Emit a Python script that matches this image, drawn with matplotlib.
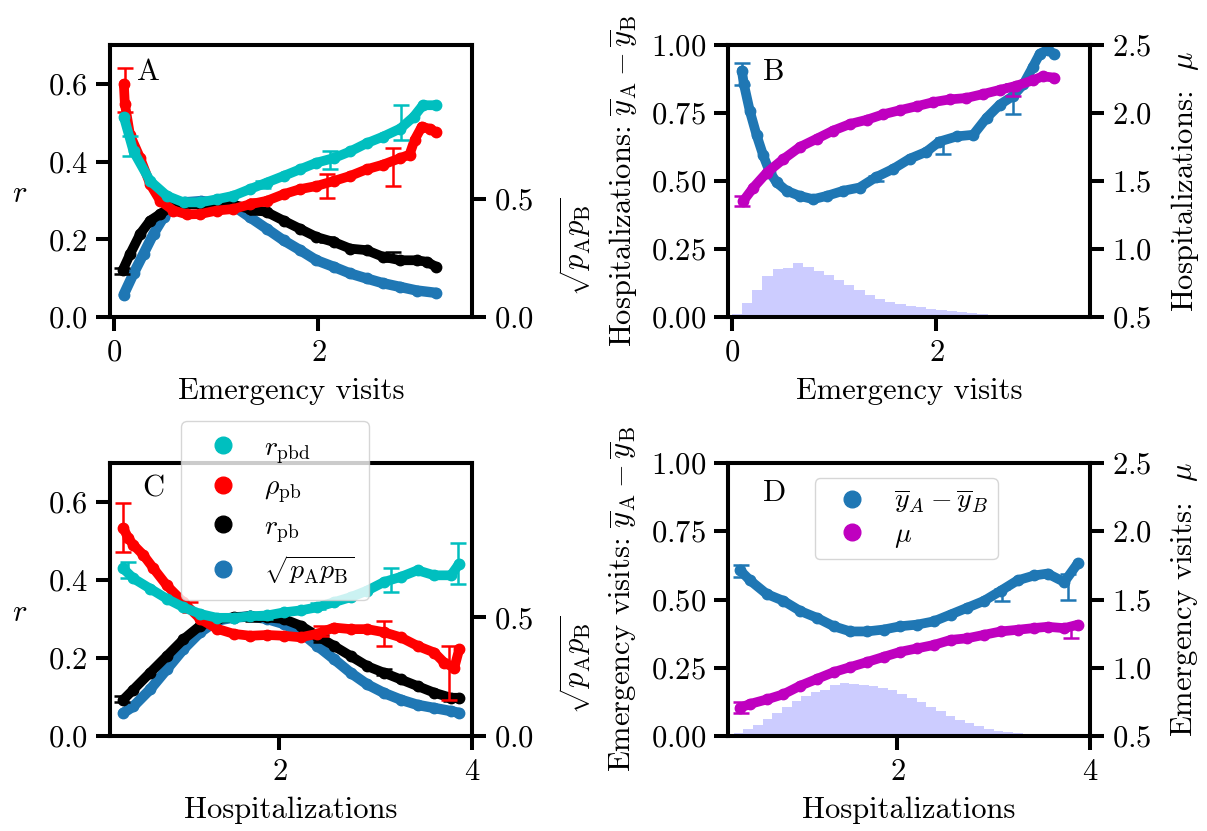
import numpy as np
import matplotlib
matplotlib.use("Agg")
import matplotlib.pyplot as plt
from matplotlib.lines import Line2D

plt.rcParams['font.family'] = ['cmr10', 'DejaVu Serif']
plt.rcParams['mathtext.fontset'] = 'cm'
plt.rcParams['axes.formatter.use_mathtext'] = True
plt.rcParams['font.size'] = 22
plt.rcParams['axes.unicode_minus'] = False

# ---------------- Panel A (x: Emergency visits) ----------------
A_cyan_x = [0.10, 0.195, 0.357, 0.52, 0.683, 0.846, 1.008, 1.17, 1.33, 1.496, 1.66, 1.82, 1.98, 2.15, 2.31, 2.47, 2.63, 2.80, 2.93, 3.02, 3.15]
A_cyan_y = [0.515, 0.426, 0.35, 0.312, 0.295, 0.295, 0.303, 0.312, 0.329, 0.346, 0.363, 0.380, 0.397, 0.409, 0.426, 0.447, 0.464, 0.485, 0.515, 0.545, 0.545]
A_red_x = [0.10, 0.11, 0.16, 0.26, 0.357, 0.455, 0.585, 0.716, 0.846, 1.008, 1.17, 1.33, 1.496, 1.66, 1.82, 1.98, 2.15, 2.31, 2.47, 2.63, 2.80, 2.89, 2.94, 3.01, 3.09, 3.15]
A_red_y = [0.60, 0.549, 0.469, 0.409, 0.342, 0.299, 0.274, 0.264, 0.265, 0.274, 0.278, 0.29, 0.299, 0.316, 0.329, 0.337, 0.35, 0.363, 0.380, 0.392, 0.409, 0.418, 0.456, 0.490, 0.484, 0.475]
A_black_x = [0.09, 0.163, 0.26, 0.357, 0.455, 0.553, 0.683, 0.846, 1.008, 1.17, 1.33, 1.496, 1.66, 1.82, 1.98, 2.15, 2.31, 2.47, 2.63, 2.80, 2.96, 3.06, 3.15]
A_black_y = [0.121, 0.163, 0.214, 0.248, 0.265, 0.282, 0.29, 0.29, 0.292, 0.289, 0.278, 0.27, 0.248, 0.227, 0.206, 0.193, 0.176, 0.172, 0.155, 0.146, 0.146, 0.142, 0.129]
A_blue_x = [0.098, 0.195, 0.293, 0.39, 0.488, 0.585, 0.7, 0.85, 1.0, 1.17, 1.33, 1.496, 1.66, 1.82, 1.98, 2.15, 2.31, 2.47, 2.63, 2.80, 2.96, 3.15]
A_blue_y = [0.094, 0.184, 0.268, 0.352, 0.422, 0.470, 0.485, 0.49, 0.485, 0.470, 0.422, 0.373, 0.324, 0.283, 0.240, 0.212, 0.184, 0.163, 0.143, 0.127, 0.112, 0.102]
A_cyan_err = ([0.163, 1.46, 2.11, 2.81], [0.44, 0.341, 0.404, 0.50], [0.025, 0.008, 0.024, 0.045])
A_red_err = ([0.114, 1.40, 2.08, 2.73], [0.585, 0.296, 0.337, 0.386], [0.057, 0.008, 0.03, 0.05])
A_black_err = ([0.08, 0.75, 1.40, 2.08, 2.73], [0.118, 0.292, 0.27, 0.20, 0.155], [0.008, 0.009, 0.006, 0.006, 0.012])

# ---------------- Panel B (x: Emergency visits) ----------------
B_diff_x = [0.10, 0.12, 0.179, 0.244, 0.309, 0.374, 0.439, 0.537, 0.667, 0.797, 0.927, 1.09, 1.25, 1.41, 1.58, 1.74, 1.90, 2.03, 2.20, 2.36, 2.49, 2.62, 2.75, 2.85, 2.94, 3.01, 3.09, 3.15]
B_diff_y = [0.906, 0.856, 0.756, 0.669, 0.594, 0.532, 0.495, 0.464, 0.445, 0.433, 0.445, 0.464, 0.476, 0.514, 0.545, 0.582, 0.607, 0.645, 0.664, 0.67, 0.732, 0.781, 0.813, 0.856, 0.918, 0.968, 0.983, 0.966]
B_mu_x = [0.114, 0.211, 0.342, 0.504, 0.667, 0.83, 0.99, 1.16, 1.32, 1.48, 1.64, 1.81, 1.97, 2.13, 2.29, 2.46, 2.62, 2.78, 2.94, 3.04, 3.15]
B_mu_y = [1.353, 1.45, 1.56, 1.66, 1.75, 1.81, 1.87, 1.92, 1.95, 1.99, 2.02, 2.05, 2.08, 2.10, 2.11, 2.14, 2.17, 2.20, 2.24, 2.27, 2.26]
B_diff_err = ([0.10, 1.41, 2.06, 2.75], [0.894, 0.51, 0.629, 0.80], [0.04, 0.01, 0.028, 0.055])
B_mu_err = ([0.10, 1.41, 2.06, 2.75], [1.353, 1.97, 2.09, 2.17], [0.037, 0.01, 0.012, 0.045])
B_hist_centers = [0.05, 0.15, 0.25, 0.35, 0.45, 0.55, 0.65, 0.75, 0.85, 0.95, 1.05, 1.15, 1.25, 1.35, 1.45, 1.55, 1.65, 1.75, 1.85, 1.95, 2.05, 2.15, 2.25, 2.35, 2.45, 2.55, 2.65]
B_hist_heights = [0.01, 0.05, 0.10, 0.15, 0.175, 0.18, 0.20, 0.185, 0.168, 0.155, 0.137, 0.118, 0.098, 0.082, 0.067, 0.056, 0.047, 0.04, 0.035, 0.029, 0.025, 0.021, 0.017, 0.013, 0.01, 0.007, 0.004]

# ---------------- Panel C (x: Hospitalizations) ----------------
C_x = [0.378, 0.483, 0.656, 0.83, 1.003, 1.177, 1.351, 1.524, 1.698, 1.872, 2.045, 2.219, 2.392, 2.566, 2.74, 2.913, 3.087, 3.26, 3.434, 3.608, 3.781, 3.868]
C_cyan_y = [0.4295, 0.404, 0.378, 0.352, 0.330, 0.313, 0.303, 0.303, 0.307, 0.309, 0.317, 0.322, 0.330, 0.343, 0.356, 0.373, 0.395, 0.408, 0.425, 0.412, 0.412, 0.442]
C_black_y = [0.093, 0.119, 0.162, 0.205, 0.248, 0.283, 0.300, 0.304, 0.307, 0.304, 0.300, 0.283, 0.257, 0.231, 0.205, 0.179, 0.162, 0.145, 0.128, 0.111, 0.098, 0.098]
C_blue_y = [0.097, 0.125, 0.196, 0.281, 0.366, 0.437, 0.486, 0.499, 0.504, 0.493, 0.472, 0.437, 0.380, 0.324, 0.266, 0.217, 0.181, 0.153, 0.131, 0.118, 0.105, 0.097]
C_red_x = [0.378, 0.431, 0.483, 0.587, 0.691, 0.83, 1.003, 1.177, 1.351, 1.524, 1.698, 1.872, 2.045, 2.219, 2.392, 2.566, 2.74, 2.913, 3.087, 3.26, 3.434, 3.608, 3.712, 3.816, 3.868]
C_red_y = [0.533, 0.507, 0.490, 0.464, 0.430, 0.386, 0.343, 0.300, 0.275, 0.262, 0.257, 0.259, 0.257, 0.253, 0.262, 0.278, 0.274, 0.274, 0.266, 0.253, 0.231, 0.214, 0.188, 0.175, 0.223]
C_cyan_err = ([0.431, 1.85, 2.40, 3.16, 3.85], [0.425, 0.308, 0.333, 0.40, 0.443], [0.02, 0.008, 0.008, 0.03, 0.052])
C_red_err = ([0.378, 1.07, 2.43, 3.09, 3.76], [0.535, 0.33, 0.27, 0.263, 0.162], [0.063, 0.013, 0.013, 0.033, 0.069])
C_black_err = ([0.36, 1.73, 2.43, 3.09, 3.78], [0.095, 0.304, 0.25, 0.165, 0.098], [0.008, 0.01, 0.008, 0.008, 0.008])

# ---------------- Panel D (x: Hospitalizations) ----------------
D_x = [0.365, 0.469, 0.643, 0.816, 0.99, 1.163, 1.337, 1.51, 1.684, 1.858, 2.031, 2.205, 2.378, 2.552, 2.726, 2.899, 3.073, 3.247, 3.42, 3.559, 3.733, 3.872]
D_diff_y = [0.607, 0.570, 0.520, 0.495, 0.458, 0.433, 0.402, 0.383, 0.383, 0.390, 0.402, 0.408, 0.420, 0.445, 0.470, 0.495, 0.532, 0.570, 0.588, 0.595, 0.564, 0.632]
D_mu_y = [0.706, 0.735, 0.768, 0.806, 0.868, 0.918, 0.968, 1.005, 1.042, 1.080, 1.117, 1.142, 1.167, 1.204, 1.216, 1.241, 1.266, 1.278, 1.291, 1.300, 1.29, 1.315]
D_diff_err = ([0.38, 3.09, 3.77], [0.604, 0.517, 0.547], [0.022, 0.022, 0.047])
D_mu_err = ([0.38, 3.80], [0.706, 1.265], [0.04, 0.045])
D_hist_centers = [0.35, 0.45, 0.55, 0.65, 0.75, 0.85, 0.95, 1.05, 1.15, 1.25, 1.35, 1.45, 1.55, 1.65, 1.75, 1.85, 1.95, 2.05, 2.15, 2.25, 2.35, 2.45, 2.55, 2.65, 2.75, 2.85, 2.95, 3.05, 3.15, 3.25, 3.35, 3.45, 3.55, 3.65]
D_hist_heights = [0.01, 0.025, 0.042, 0.063, 0.085, 0.107, 0.127, 0.145, 0.16, 0.17, 0.185, 0.195, 0.19, 0.185, 0.182, 0.176, 0.167, 0.153, 0.14, 0.126, 0.108, 0.09, 0.075, 0.06, 0.047, 0.035, 0.027, 0.02, 0.015, 0.011, 0.008, 0.006, 0.004, 0.002]

CYAN, RED, BLACK, BLUE, MAG = 'c', 'r', 'k', '#1f77b4', 'm'
LW, MS = 7, 7.5
SPW = 2.9

fig = plt.figure(figsize=(12.07, 8.31), dpi=100)
W = 362 / 1207
H = 272 / 831
axA = fig.add_axes([110 / 1207, (831 - 317) / 831, W, H])
axB = fig.add_axes([728 / 1207, (831 - 317) / 831, W, H])
axC = fig.add_axes([110 / 1207, (831 - 736) / 831, W, 273 / 831])
axD = fig.add_axes([728 / 1207, (831 - 736) / 831, W, 273 / 831])


def style(ax):
    for s in ax.spines.values():
        s.set_linewidth(SPW)
    ax.tick_params(direction='out', length=10, width=SPW, pad=6, labelsize=22)


def series(ax, x, y, color, z):
    ax.plot(x, y, '-o', color=color, lw=LW, ms=MS, solid_capstyle='round',
            solid_joinstyle='round', zorder=z)


def errs(ax, e, color, z):
    ax.errorbar(e[0], e[1], yerr=e[2], fmt='none', ecolor=color, elinewidth=1.8,
                capsize=5.5, capthick=1.8, zorder=z)


def panel_r(ax, xs, ys_cyan, red_x, ys_red, ys_black, xs_blue, ys_blue,
            cyan_err, red_err, black_err, xlab, letter, lx, ly):
    ax2 = ax.twinx()
    ax.set_zorder(ax2.get_zorder() + 1)
    ax.patch.set_visible(False)
    style(ax)
    style(ax2)
    ax2.plot(xs_blue, ys_blue, '-o', color=BLUE, lw=LW + 0.5, ms=MS, solid_capstyle='round')
    series(ax, xs[1], ys_black, BLACK, 2)
    errs(ax, black_err, BLACK, 2.1)
    series(ax, red_x, ys_red, RED, 3)
    errs(ax, red_err, RED, 3.1)
    series(ax, xs[0], ys_cyan, CYAN, 4)
    errs(ax, cyan_err, CYAN, 4.1)
    ax.set_ylim(0, 0.7)
    ax.set_yticks([0.0, 0.2, 0.4, 0.6])
    ax2.set_ylim(0, 1.15)
    ax2.set_yticks([0.0, 0.5])
    ax.set_xlabel(xlab, labelpad=8)
    ax.set_ylabel('$r$', rotation=0, va='center', ha='center')
    ax.yaxis.set_label_coords(-0.25, 0.45)
    ax2.set_ylabel(r'$\sqrt{p_\mathrm{A}p_\mathrm{B}}$')
    ax2.yaxis.set_label_coords(1.235, 0.26)
    ax.text(lx, ly, letter, transform=ax.transAxes, va='top', ha='left', fontsize=22)
    return ax2


def panel_mu(ax, xd, yd, xm, ym, derr, merr, hc, hh, xlab, ylab_prefix, letter, lx, ly):
    ax2 = ax.twinx()
    style(ax)
    style(ax2)
    ax.bar(hc, hh, width=0.1, color='b', alpha=0.2, linewidth=0, zorder=1)
    series(ax, xd, yd, BLUE, 2)
    errs(ax, derr, BLUE, 2.1)
    ax2.plot(xm, ym, '-o', color=MAG, lw=LW, ms=MS, solid_capstyle='round')
    ax2.errorbar(merr[0], merr[1], yerr=merr[2], fmt='none', ecolor=MAG,
                 elinewidth=1.8, capsize=5.5, capthick=1.8)
    ax.set_ylim(0, 1.0)
    ax.set_yticks([0.0, 0.25, 0.5, 0.75, 1.0])
    ax2.set_ylim(0.5, 2.5)
    ax2.set_yticks([0.5, 1.0, 1.5, 2.0, 2.5])
    ax.set_xlabel(xlab, labelpad=8)
    ax.set_ylabel(ylab_prefix + r': $\overline{y}_\mathrm{A} - \overline{y}_\mathrm{B}$', labelpad=8)
    ax2.set_ylabel(ylab_prefix + r':  $\mu$', labelpad=12)
    ax.text(lx, ly, letter, transform=ax.transAxes, va='top', ha='left', fontsize=22)
    return ax2


panel_r(axA, (A_cyan_x, A_black_x), A_cyan_y, A_red_x, A_red_y, A_black_y, A_blue_x, A_blue_y,
        A_cyan_err, A_red_err, A_black_err, 'Emergency visits', 'A', 0.075, 0.95)
axA.set_xlim(-0.035, 3.5)
axA.set_xticks([0, 2])

panel_mu(axB, B_diff_x, B_diff_y, B_mu_x, B_mu_y, B_diff_err, B_mu_err,
         B_hist_centers, B_hist_heights, 'Emergency visits', 'Hospitalizations', 'B', 0.097, 0.95)
axB.set_xlim(-0.035, 3.5)
axB.set_xticks([0, 2])

panel_r(axC, (C_x, C_x), C_cyan_y, C_red_x, C_red_y, C_black_y, C_x, C_blue_y,
        C_cyan_err, C_red_err, C_black_err, 'Hospitalizations', 'C', 0.09, 0.956)
axC.set_xlim(0.24, 4.0)
axC.set_xticks([2, 4])

panel_mu(axD, D_x, D_diff_y, D_x, D_mu_y, D_diff_err, D_mu_err,
         D_hist_centers, D_hist_heights, 'Hospitalizations', 'Emergency visits', 'D', 0.097, 0.94)
axD.set_xlim(0.24, 4.0)
axD.set_xticks([2, 4])

# legends
hC = [Line2D([], [], ls='none', marker='o', color=c, ms=12) for c in (CYAN, RED, BLACK, BLUE)]
legC = axC.legend(hC, [r'$r_\mathrm{pbd}$', r'$\rho_\mathrm{pb}$', r'$r_\mathrm{pb}$',
                       r'$\sqrt{p_\mathrm{A}p_\mathrm{B}}$'],
                  loc='upper left', bbox_to_anchor=(0.196, 1.154), fontsize=20,
                  handletextpad=0.5, labelspacing=0.3, borderaxespad=0, borderpad=0.5)
legC.set_zorder(20)
hD = [Line2D([], [], ls='none', marker='o', color=c, ms=12) for c in (BLUE, MAG)]
legD = axD.legend(hD, [r'$\overline{y}_A - \overline{y}_B$', r'$\mu$'],
                  loc='upper left', bbox_to_anchor=(0.24, 0.945), fontsize=20,
                  handletextpad=0.5, labelspacing=0.22, borderaxespad=0, borderpad=0.35)

fig.savefig('out.png', dpi=100)
